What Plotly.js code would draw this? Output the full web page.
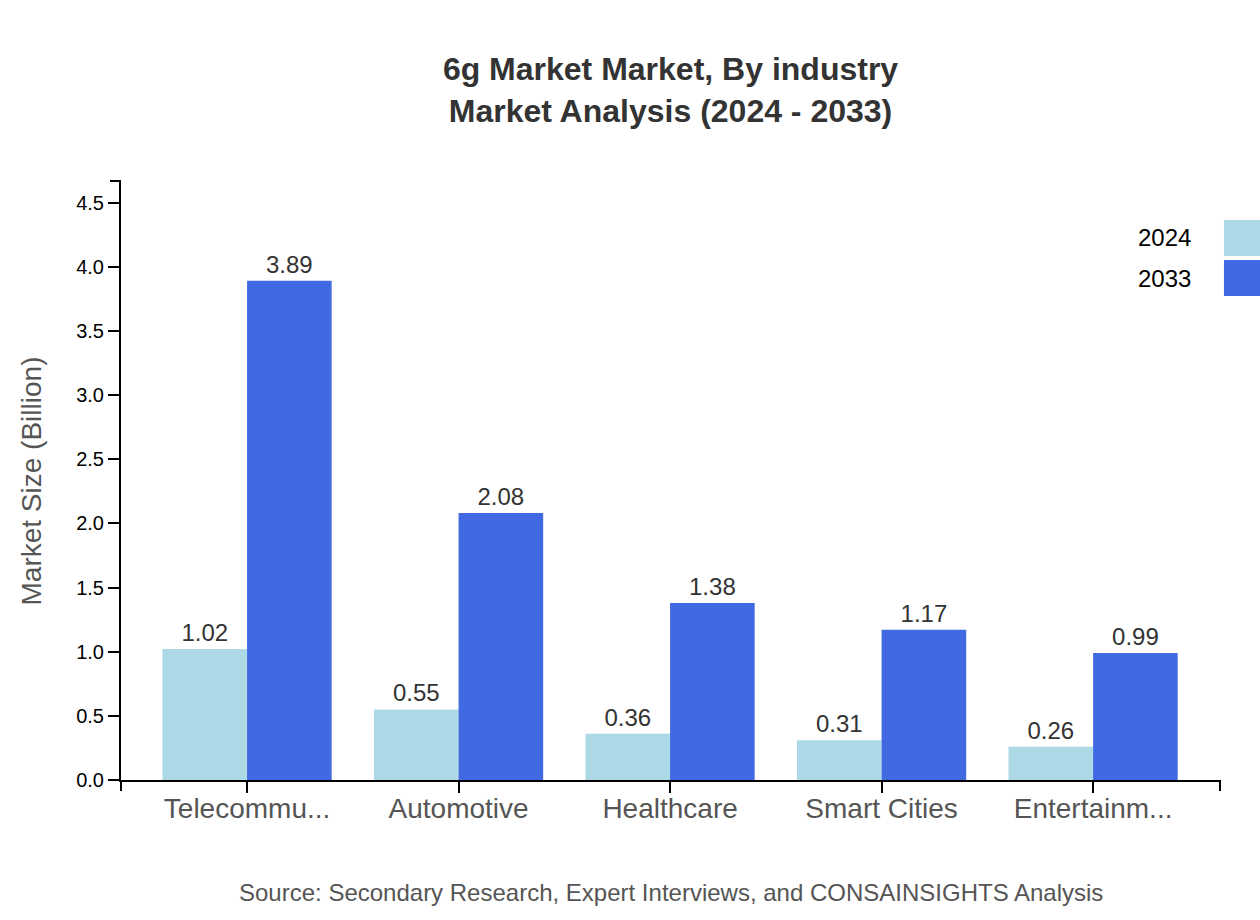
<!DOCTYPE html>
<html>
<head>
<meta charset="utf-8">
<script src="https://cdn.plot.ly/plotly-3.0.1.min.js"></script>
<style>
    body { margin: 0; background: #fff; }
    #chart { width: 1260px; height: 920px; }
</style>
</head>
<body>
<div id="chart"></div>
<script>
const industries = ["Telecommu...", "Automotive", "Healthcare", "Smart Cities", "Entertainm..."]
const years = ["2024", "2033"]
const values2024 = [1.02, 0.55, 0.36, 0.31, 0.26]
const values2033 = [3.89, 2.08, 1.38, 1.17, 0.99]
const seriesColors = ["#ADD8E6", "#4169E1"]
const yTicks = [0, 0.5, 1, 1.5, 2, 2.5, 3, 3.5, 4, 4.5]

const FONT = "Liberation Sans, Arial, sans-serif"
const TICK_LEN = 11

function makeBar(name, values, color) {
    return {
        type: "bar",
        name: name,
        x: industries,
        y: values,
        marker: { color: color },
        text: values.map(v => v.toFixed(2)),
        textposition: "outside",
        constraintext: "none",
        cliponaxis: false,
        textfont: { size: 24, color: "#333", family: FONT },
        hoverinfo: "x+y"
    }
}

const allSeries = [values2024, values2033]
const data = years.map((y, i) => makeBar(y, allSeries[i], seriesColors[i]))

const maxVal = Math.max(...values2024, ...values2033)

// legend drawn by hand: text left of the swatch
let legendAnnotations = []
let legendShapes = []
years.forEach((y, i) => {
    let top = 0.935 - i * 0.067
    legendShapes.push({
        type: "rect", xref: "paper", yref: "paper",
        x0: 1.0036, x1: 1.06, y0: top - 0.06, y1: top,
        fillcolor: seriesColors[i], line: { width: 0 }
    })
    legendAnnotations.push({
        xref: "paper", yref: "paper", x: 0.9755, y: top - 0.03,
        xanchor: "right", yanchor: "middle", showarrow: false,
        text: y, font: { size: 24, color: "#000", family: FONT }
    })
})

const layout = {
    width: 1260,
    height: 920,
    margin: { l: 121, r: 40, t: 181, b: 140 },
    paper_bgcolor: "#fff",
    plot_bgcolor: "#fff",
    font: { family: FONT, color: "#000" },
    showlegend: false,
    barmode: "group",
    bargap: 0.2,
    bargroupgap: 0,
    title: {
        text: "6g Market Market, By industry<br>Market Analysis (2024 - 2033)",
        font: { size: 32, color: "#333", family: FONT, weight: "bold" },
        xref: "paper", x: 0.5, xanchor: "center",
        yref: "container", y: 0.913, yanchor: "middle"
    },
    xaxis: {
        type: "category",
        range: [-0.596, 4.6],
        showline: true, linecolor: "#000", linewidth: 2,
        ticks: "outside", ticklen: TICK_LEN, tickwidth: 2, tickcolor: "#000",
        ticklabelstandoff: -9,
        showgrid: false, zeroline: false,
        tickfont: { size: 28, color: "#555", family: FONT },
        fixedrange: true
    },
    yaxis: {
        range: [0, maxVal * 1.2],
        tickvals: yTicks,
        ticktext: yTicks.map(v => v.toFixed(1)),
        showline: true, linecolor: "#000", linewidth: 2,
        ticks: "outside", ticklen: TICK_LEN, tickwidth: 2, tickcolor: "#000",
        showgrid: false, zeroline: false,
        tickfont: { size: 20, color: "#000", family: FONT },
        fixedrange: true
    },
    shapes: [
        // outer ticks at the ends of the domain paths
        { type: "line", xref: "paper", yref: "paper", x0: 0, x1: 0, y0: 0, y1: -TICK_LEN / 599, line: { color: "#000", width: 2 } },
        { type: "line", xref: "paper", yref: "paper", x0: 1, x1: 1, y0: 0, y1: -TICK_LEN / 599, line: { color: "#000", width: 2 } },
        { type: "line", xref: "paper", yref: "paper", x0: -TICK_LEN / 1099, x1: 0, y0: 1, y1: 1, line: { color: "#000", width: 2 } }
    ].concat(legendShapes),
    annotations: [
        {
            xref: "paper", yref: "paper", x: -0.081, y: 0.5,
            xanchor: "center", yanchor: "middle", showarrow: false, textangle: -90,
            text: "Market Size (Billion)", font: { size: 28, color: "#555", family: FONT }
        },
        {
            xref: "paper", yref: "paper", x: 0.5, y: -0.187,
            xanchor: "center", yanchor: "middle", showarrow: false,
            text: "Source: Secondary Research, Expert Interviews, and CONSAINSIGHTS Analysis",
            font: { size: 24, color: "#555", family: FONT }
        }
    ].concat(legendAnnotations)
}

Plotly.newPlot("chart", data, layout, { displayModeBar: false, staticPlot: true })
</script>
</body>
</html>
